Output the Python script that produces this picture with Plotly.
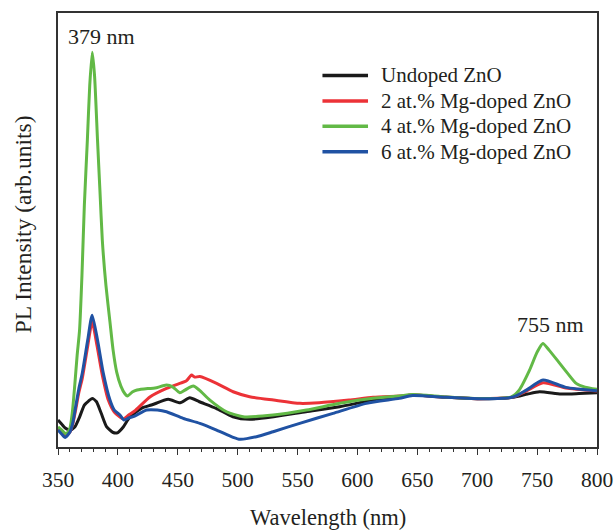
import plotly.graph_objects as go

# ---- data (intensity in arbitrary units) ----
wl_undoped = [350, 353, 356, 360, 364, 368, 372, 375.5, 378.5, 382, 386, 390.5, 396, 400,
              404.5, 410, 420, 428, 442, 452, 460, 468, 482, 496, 510, 530, 557, 585,
              613, 635, 646, 674, 702, 730, 742, 752, 770, 785, 800]
int_undoped = [27, 23, 19, 17, 20, 30, 42, 46, 48.5, 45.5, 34, 20.5, 14.5, 14.5,
               20, 30, 39, 42, 47.7, 44.3, 49.3, 45.3, 38.7, 30.3, 27.7, 30.3, 35.3, 40.3,
               47, 50.3, 52, 49.7, 48.3, 49.7, 53, 55.3, 53, 53.5, 54.3]

wl_mg2 = [350, 353, 356, 360, 362.5, 364.7, 367.5, 370.3, 374.8, 378.5, 382.5, 387, 392,
          397, 401.7, 404.5, 409, 414, 427, 440.6, 451.7, 457, 461.5, 464, 468.4, 482.4,
          496.2, 510, 530, 552, 568, 593, 613, 635, 646, 674, 702, 730, 741, 755, 774, 800]
int_mg2 = [19, 15, 11, 15, 24, 37, 55, 69, 101, 125.3, 102, 72, 47,
           35, 30, 28, 32, 36, 50.3, 58.7, 63.7, 66, 72, 70, 70.5, 63.7,
           55.3, 50.3, 47, 43.7, 44.3, 47, 49.7, 51, 52, 49.7, 48.3, 50, 56, 64.3, 59, 56]

wl_mg4 = [350, 353, 357, 360, 362, 364, 366, 368, 370, 372, 374.5, 376.5, 378.6, 380.5,
          383, 385, 387, 390, 393.4, 396, 399, 402.5, 406, 408, 412, 416, 425, 431, 440.6,
          446, 451.7, 456, 462.9, 468, 476.8, 490.7, 504.6, 529.6, 557.4, 585.2, 613, 635,
          646, 674, 702, 728, 735, 743.7, 750, 754.8, 760, 768.7, 776, 782.6, 790, 800]
int_mg4 = [20, 17, 13, 19, 35, 62, 92, 117, 172, 242, 307, 362, 395.3, 372,
           307, 257, 207, 162, 125, 97, 75, 61, 53, 51, 55, 57, 58.5, 59, 62,
           60, 54.3, 57, 61, 57, 47, 35.3, 30.3, 32, 37, 43.7, 48.7, 51,
           52.5, 50, 48.5, 50, 57, 77, 95, 103.7, 97, 84, 73, 63.7, 60, 57.7]

wl_mg6 = [350, 353, 356, 360, 362.5, 364.7, 367.5, 370.3, 374.8, 378.5, 383, 387.8, 393.4,
          397, 401.7, 405, 409, 414, 424, 433, 440.6, 454.5, 468.4, 482.4, 496.2, 502,
          515.7, 529.6, 551.8, 579.6, 607.5, 635, 646, 674, 702, 730, 741, 755, 774, 800]
int_mg6 = [17, 13, 9.5, 15, 25, 40, 59, 74, 107, 132, 107, 74, 47,
           37, 32, 27, 29, 31, 37, 37, 35.3, 28.7, 23.7, 17, 9.7, 7.7,
           10.3, 15.3, 23.7, 33.7, 43.7, 48.7, 51.5, 49.7, 48.3, 50, 57, 67, 59.7, 56.3]

series_names = ["Undoped ZnO", "2 at.% Mg-doped ZnO", "4 at.% Mg-doped ZnO", "6 at.% Mg-doped ZnO"]
series_x = [wl_undoped, wl_mg2, wl_mg4, wl_mg6]
series_y = [int_undoped, int_mg2, int_mg4, int_mg6]
series_colors = ["#1a1a1a", "#ec3237", "#62b946", "#2052a3"]

x_ticks = [350, 400, 450, 500, 550, 600, 650, 700, 750, 800]
peak_labels = [(386.5, 411, "379 nm"), (761.3, 122.5, "755 nm")]

FONT = "Liberation Serif"
TXT = "#231f20"

# plot-area geometry (pixels) used for placing the legend / titles
W, H = 615, 531
L, R, T, B = 58, 17.5, 12.5, 84
PW, PH = W - L - R, H - T - B


def px_x(px):
    return (px - L) / PW


def px_y(py):
    return (H - B - py) / PH


fig = go.Figure()
for name, xs, ys, col in zip(series_names, series_x, series_y, series_colors):
    fig.add_trace(go.Scatter(x=xs, y=ys, mode="lines", name=name, showlegend=False,
                             line=dict(color=col, width=3, shape="spline", smoothing=0.6)))

# legend (drawn with line samples + text so row spacing matches the reference)
legend_rows_py = [75, 100.5, 126, 151.5]
for name, col, py in zip(series_names, series_colors, legend_rows_py):
    fig.add_shape(type="line", xref="paper", yref="paper",
                  x0=px_x(322.7), x1=px_x(368.3), y0=px_y(py), y1=px_y(py),
                  line=dict(color=col, width=3.5))
    fig.add_annotation(x=px_x(379), y=px_y(py), xref="paper", yref="paper", text=name,
                       showarrow=False, xanchor="left", yanchor="middle",
                       font=dict(family=FONT, size=21, color=TXT))

for x, y, t in peak_labels:
    fig.add_annotation(x=x, y=y, xref="x", yref="y", text=t, showarrow=False,
                       font=dict(family=FONT, size=22, color=TXT))

fig.add_annotation(x=0.5, y=px_y(518), xref="paper", yref="paper", text="Wavelength (nm)",
                   showarrow=False, xanchor="center", yanchor="middle",
                   font=dict(family=FONT, size=22.5, color=TXT))
fig.add_annotation(x=px_x(23), y=px_y(224), xref="paper", yref="paper",
                   text="PL Intensity (arb.units)",
                   showarrow=False, textangle=-90, xanchor="center", yanchor="middle",
                   font=dict(family=FONT, size=23.5, color=TXT))

fig.update_layout(
    width=W, height=H,
    margin=dict(l=L, r=R, t=T, b=B, autoexpand=False),
    paper_bgcolor="white", plot_bgcolor="white",
    font=dict(family=FONT, size=21, color=TXT),
    showlegend=False,
    xaxis=dict(range=[350, 800], tickmode="array", tickvals=x_ticks,
               ticks="outside", ticklen=6, tickwidth=1.2, tickcolor="#333",
               ticklabelstandoff=6,
               minor=dict(dtick=10, ticks="outside", ticklen=3.5, tickwidth=1, tickcolor="#333"),
               showline=True, mirror=True, linecolor="#333", linewidth=1.5,
               showgrid=False, zeroline=False, automargin=False,
               tickfont=dict(family=FONT, size=21.5, color=TXT)),
    yaxis=dict(range=[0, 434.5], showticklabels=False, ticks="",
               showline=True, mirror=True, linecolor="#333", linewidth=1.5,
               showgrid=False, zeroline=False, automargin=False),
)

fig.write_html("out.html")
